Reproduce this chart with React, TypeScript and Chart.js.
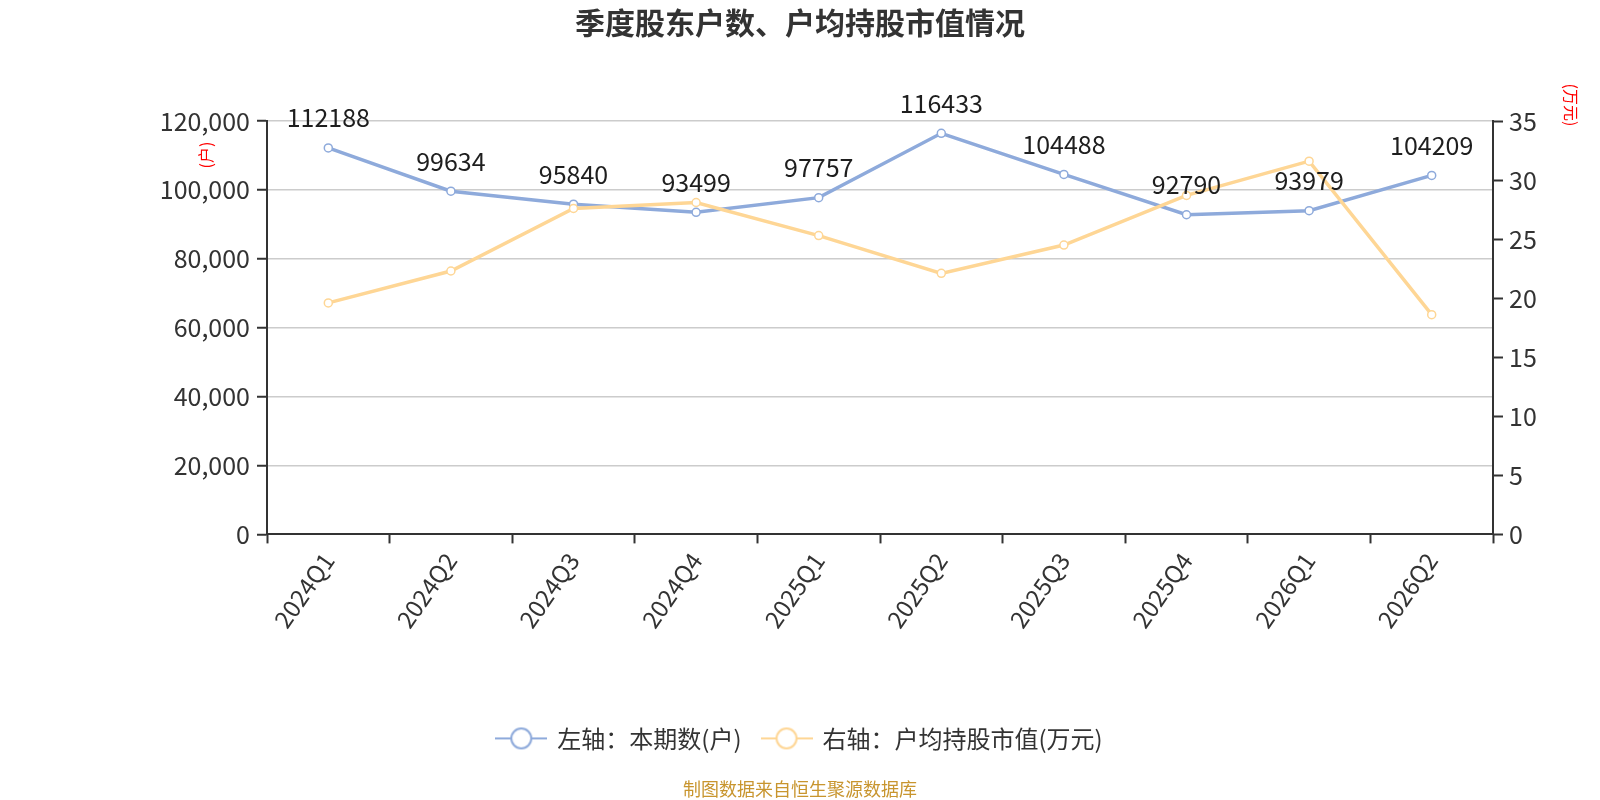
import React, { useEffect, useRef } from 'react';
import { Chart, registerables } from 'chart.js';

Chart.register(...registerables);

const categories = ['2024Q1', '2024Q2', '2024Q3', '2024Q4', '2025Q1', '2025Q2', '2025Q3', '2025Q4', '2026Q1', '2026Q2'];
const holders = [112188, 99634, 95840, 93499, 97757, 116433, 104488, 92790, 93979, 104209];
const avgValue = [19.6, 22.3, 27.6, 28.1, 25.3, 22.1, 24.5, 28.7, 31.6, 18.6];
const seriesNames = ['左轴：本期数(户)', '右轴：户均持股市值(万元)'];
const leftAxis = { min: 0, max: 120000, step: 20000 };
const rightAxis = { min: 0, max: 35, step: 5 };
const titleText = '季度股东户数、户均持股市值情况';
const sourceText = '制图数据来自恒生聚源数据库';
const leftAxisTitle = '(户)';
const rightAxisTitle = '(万元)';

const FONT = '"Noto Sans CJK SC", "Noto Sans", sans-serif';
const BLUE = '#8eaadb';
const ORANGE = '#fed695';
const DARK = '#333333';

function makeIcon(color: string): HTMLCanvasElement {
  const c = document.createElement('canvas');
  c.width = 52;
  c.height = 24;
  const g = c.getContext('2d')!;
  g.strokeStyle = color;
  g.lineWidth = 2;
  g.beginPath();
  g.moveTo(0, 12);
  g.lineTo(52, 12);
  g.stroke();
  g.beginPath();
  g.arc(26, 12, 10, 0, Math.PI * 2);
  g.fillStyle = '#fff';
  g.fill();
  g.stroke();
  return c;
}

const labelPlugin = {
  id: 'valueLabels',
  afterDatasetsDraw(chart: any) {
    const meta = chart.getDatasetMeta(0);
    const ctx = chart.ctx;
    ctx.save();
    ctx.font = `25px ${FONT}`;
    ctx.fillStyle = '#1e1e1e';
    ctx.textAlign = 'center';
    ctx.textBaseline = 'middle';
    meta.data.forEach((el: any, i: number) => {
      ctx.fillText(String(chart.data.datasets[0].data[i]), el.x, el.y - 30);
    });
    ctx.restore();
  },
};

const axisTitlePlugin = {
  id: 'axisTitles',
  afterDraw(chart: any) {
    const { ctx, chartArea } = chart;
    ctx.save();
    ctx.font = `16px ${FONT}`;
    ctx.fillStyle = '#ff0000';
    ctx.textAlign = 'center';
    ctx.textBaseline = 'middle';
    ctx.translate(chartArea.left - 61, chartArea.top + 34);
    ctx.rotate(-Math.PI / 2);
    ctx.fillText(leftAxisTitle, 0, 0);
    ctx.restore();
    ctx.save();
    ctx.font = `16px ${FONT}`;
    ctx.fillStyle = '#ff0000';
    ctx.textAlign = 'center';
    ctx.textBaseline = 'middle';
    ctx.translate(chartArea.right + 78, chartArea.top - 16);
    ctx.rotate(Math.PI / 2);
    ctx.fillText(rightAxisTitle, 0, 0);
    ctx.restore();
  },
};

export default function App() {
  const ref = useRef<HTMLCanvasElement>(null);

  useEffect(() => {
    document.body.style.margin = '0';
    const icons = [makeIcon(BLUE), makeIcon(ORANGE)];
    Chart.defaults.font.family = FONT;
    const chart = new Chart(ref.current!, {
      type: 'line',
      data: {
        labels: categories,
        datasets: [
          {
            label: seriesNames[0],
            data: holders,
            yAxisID: 'y',
            borderColor: BLUE,
            backgroundColor: '#ffffff',
            borderWidth: 3.5,
            pointRadius: 4,
            pointBorderWidth: 1.5,
            pointBackgroundColor: '#ffffff',
            pointBorderColor: BLUE,
            tension: 0,
            order: 1,
          },
          {
            label: seriesNames[1],
            data: avgValue,
            yAxisID: 'y1',
            borderColor: ORANGE,
            backgroundColor: '#ffffff',
            borderWidth: 3.5,
            pointRadius: 4,
            pointBorderWidth: 1.5,
            pointBackgroundColor: '#ffffff',
            pointBorderColor: ORANGE,
            tension: 0,
            order: 0,
          },
        ],
      },
      options: {
        responsive: false,
        animation: false,
        locale: 'en-US',
        layout: { padding: 0 },
        plugins: {
          tooltip: { enabled: false },
          title: {
            display: true,
            text: titleText,
            color: DARK,
            font: { size: 30, weight: 'bold', family: FONT },
            padding: { top: 5, bottom: 80 },
          },
          subtitle: {
            display: true,
            position: 'bottom',
            text: sourceText,
            color: '#c8952e',
            font: { size: 18, family: FONT },
            padding: { top: 18, bottom: 0 },
          },
          legend: {
            display: true,
            position: 'bottom',
            labels: {
              color: DARK,
              font: { size: 24, family: FONT },
              padding: 21,
              usePointStyle: true,
              pointStyleWidth: 48,
              boxHeight: 24,
              generateLabels: (ch: any) => {
                const base = Chart.defaults.plugins.legend.labels.generateLabels(ch);
                return base
                  .sort((a: any, b: any) => a.datasetIndex - b.datasetIndex)
                  .map((it: any) => ({ ...it, pointStyle: icons[it.datasetIndex], fontColor: DARK }));
              },
            },
          },
        },
        scales: {
          x: {
            type: 'category',
            offset: true,
            grid: {
              offset: true,
              drawOnChartArea: false,
              tickLength: 9,
              tickColor: DARK,
              tickWidth: 2,
              color: DARK,
            },
            border: { color: DARK, width: 2 },
            ticks: {
              color: DARK,
              font: { size: 24 },
              minRotation: 55,
              maxRotation: 55,
              autoSkip: false,
              padding: 4,
            },
            afterFit: (s: any) => {
              s.height = 171;
            },
          },
          y: {
            position: 'left',
            min: leftAxis.min,
            max: leftAxis.max,
            ticks: { stepSize: leftAxis.step, color: DARK, font: { size: 25 }, padding: 7 },
            grid: {
              color: (c: any) => (c.tick && c.tick.value === 0 ? 'rgba(0,0,0,0)' : '#cccccc'),
              lineWidth: 1.5,
              tickLength: 10,
              tickColor: DARK,
              tickWidth: 2,
            },
            border: { color: DARK, width: 2 },
            afterFit: (s: any) => {
              s.width = 267;
            },
          },
          y1: {
            position: 'right',
            min: rightAxis.min,
            max: rightAxis.max,
            ticks: { stepSize: rightAxis.step, color: DARK, font: { size: 25 }, padding: 6 },
            grid: {
              drawOnChartArea: false,
              tickLength: 10,
              tickColor: DARK,
              tickWidth: 2,
              color: DARK,
            },
            border: { color: DARK, width: 2 },
            afterFit: (s: any) => {
              s.width = 107;
            },
          },
        },
      },
      plugins: [labelPlugin, axisTitlePlugin],
    } as any);
    return () => chart.destroy();
  }, []);

  return <canvas ref={ref} width={1600} height={800} style={{ display: 'block' }} />;
}
